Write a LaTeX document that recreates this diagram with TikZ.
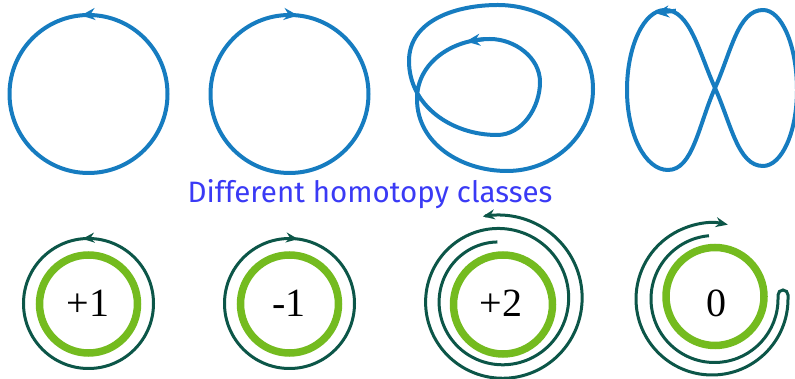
\documentclass[tikz,border=0pt]{standalone}
\usepackage{fontspec}
\setmainfont{Liberation Serif}
\newfontfamily\firafont{Fira Sans}
\usetikzlibrary{arrows.meta,decorations.markings}
\definecolor{loopblue}{RGB}{22,124,192}
\definecolor{darkteal}{RGB}{12,86,72}
\definecolor{ringgreen}{RGB}{116,187,31}
\definecolor{titleblue}{RGB}{58,58,245}
\tikzset{
  bluepath/.style={draw=loopblue, line width=4pt, line join=round},
  darkpath/.style={draw=darkteal, line width=3pt},
  ringpath/.style={draw=ringgreen, line width=7.5pt},
  bluetip/.style={-{Stealth[length=14pt,width=12pt]}},
  darktip/.style={-{Stealth[length=12pt,width=10pt]}},
  numlabel/.style={font=\fontsize{40}{40}\selectfont, anchor=base, inner sep=0pt},
  markfwd/.style={decoration={markings, mark=at position #1 with {\arrow{Stealth[length=12pt,width=10pt]}}}, postaction={decorate}},
  markrev/.style={decoration={markings, mark=at position #1 with {\arrowreversed{Stealth[length=12pt,width=10pt]}}}, postaction={decorate}},
  bmarkfwd/.style={decoration={markings, mark=at position #1 with {\arrow{Stealth[length=14pt,width=12pt]}}}, postaction={decorate}},
  bmarkrev/.style={decoration={markings, mark=at position #1 with {\arrowreversed{Stealth[length=14pt,width=12pt]}}}, postaction={decorate}},
}
\begin{document}
\begin{tikzpicture}[x=1pt,y=1pt]
\useasboundingbox (0,0) rectangle (795,379);

% ---------- top row ----------
\draw[bluepath, bmarkfwd=0.265] (88.5,285) circle[radius=79];
\draw[bluepath, bmarkrev=0.233] (289.5,285) circle[radius=79];

% loop with self crossing
\coordinate (la) at (490,340);
\coordinate (lb) at (417,280);
\coordinate (lc) at (507,208);
\coordinate (ld) at (593,290);
\coordinate (le) at (498,374);
\coordinate (lf) at (409,318);
\coordinate (lh) at (497,244);
\coordinate (li) at (540,297);
\draw[bluepath] (la) to[out=180,in=90] (lb) to[out=270,in=180] (lc)
  to[out=0,in=270] (ld) to[out=90,in=0] (le) to[out=180,in=90] (lf)
  to[out=270,in=180] (lh) to[out=0,in=270,looseness=0.95] (li) to[out=90,in=0,looseness=0.95] (la) -- cycle;
\draw[bluepath, bluetip] (484,339.8) -- (466,337.5);

% figure eight
\coordinate (fc) at (715,291);
\coordinate (flt) at (665,369);
\coordinate (fl) at (627,289);
\coordinate (flb) at (668,209);
\coordinate (frt) at (763,369);
\coordinate (fr) at (797,289);
\coordinate (frb) at (763,213);
\draw[bluepath] (fc) .. controls (698.7,327.5) and (690,369) .. (flt)
  .. controls (644,369) and (627,333) .. (fl)
  .. controls (627,245) and (645,209) .. (flb)
  .. controls (693,209) and (698.7,254.5) .. (fc)
  .. controls (731.3,327.5) and (738,369) .. (frt)
  .. controls (781.8,369) and (797,333) .. (fr)
  .. controls (797,247) and (781.8,213) .. (frb)
  .. controls (738,213) and (731.3,254.5) .. (fc) -- cycle;
\draw[bluepath, bluetip] (676,368.3) -- (655,366);

% title
\node[font=\firafont\fontsize{29.5}{31}\selectfont, text=titleblue, anchor=base, inner sep=0pt] (title) at (370,176) {Different homotopy classes};

% ---------- bottom row ----------
% +1
\draw[ringpath] (88.5,75) circle[radius=49];
\draw[darkpath, markfwd=0.265] (88.5,75.5) circle[radius=65];
\node[numlabel] (n1) at (88,62) {+1};

% -1
\draw[ringpath] (289.5,75) circle[radius=49];
\draw[darkpath, markrev=0.229] (289.5,75.5) circle[radius=65];
\node[numlabel] (n2) at (289,62) {-1};

% +2
\draw[ringpath] (503,74.5) circle[radius=49.5];
\draw[darkpath, darktip] plot[domain=93:822, samples=300, smooth, variable=\t]
  ({500.5 + (58 + 13.5*(\t-90)/360)*cos(\t)}, {79 + (58 + 13.5*(\t-90)/360)*sin(\t)});
\node[numlabel] (n3) at (501,62) {+2};

% 0
\draw[ringpath] (715,82.5) circle[radius=49];
\draw[darkpath, darktip] (708.97,143.26) arc[start angle=95, end angle=360, radius=63.5]
  -- ++(0,4) arc[start angle=180, end angle=0, radius=5] -- ++(0,-4)
  arc[start angle=0, end angle=-282, radius=76];
\node[numlabel] (n4) at (716,62) {0};
\end{tikzpicture}
\end{document}
